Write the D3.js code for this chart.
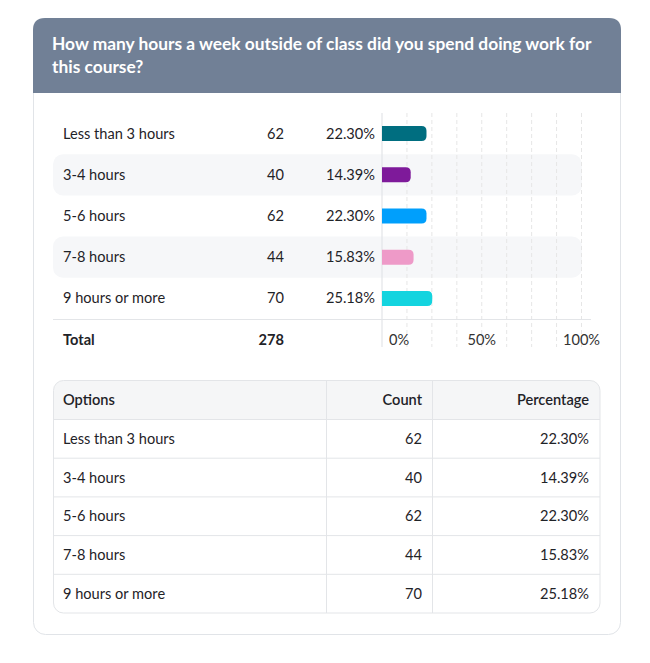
<!DOCTYPE html>
<html>
<head>
<meta charset="utf-8">
<script src="https://cdn.jsdelivr.net/npm/d3@7"></script>
<style>
  html, body { margin: 0; padding: 0; background: #fff; }
  svg { display: block; font-family: Lato, "Noto Sans", sans-serif; }
</style>
</head>
<body>
<svg id="chart" width="650" height="663"></svg>
<script>
/* ── Data ─────────────────────────────── */
const titleLines = ["How many hours a week outside of class did you spend doing work for", "this course?"];
const options    = ["Less than 3 hours", "3-4 hours", "5-6 hours", "7-8 hours", "9 hours or more"];
const counts     = [62, 40, 62, 44, 70];
const percents   = [22.30, 14.39, 22.30, 15.83, 25.18];
const barColors  = ["#006e80", "#7e1a9a", "#009ffc", "#ee9ac8", "#14d4df"];
const tickValues = [0, 50, 100];
const tableHead  = ["Options", "Count", "Percentage"];
const total      = 278;

const svg = d3.select("#chart");
const textColor = "#1f2328";
const lineColor = "#e3e5e8";

/* ── Card + header ─────────────────────── */
svg.append("rect")
    .attr("x", 33.5).attr("y", 18.5).attr("width", 587).attr("height", 616)
    .attr("rx", 12).attr("fill", "#fff").attr("stroke", "#e1e4e8");

const hx = 33, hy = 18, hw = 588, hh = 75, hr = 12;
svg.append("path")
    .attr("d", `M${hx},${hy+hh} V${hy+hr} Q${hx},${hy} ${hx+hr},${hy} H${hx+hw-hr} Q${hx+hw},${hy} ${hx+hw},${hy+hr} V${hy+hh} Z`)
    .attr("fill", "#718096");

svg.append("g").selectAll("text")
    .data(titleLines).join("text")
    .attr("x", 52).attr("y", (d, i) => 50 + i * 23)
    .attr("fill", "#fff").attr("font-size", 17.35).attr("font-weight", 700)
    .text(d => d);

/* ── Bar chart ────────────────────────── */
const rows = options.map((o, i) => ({ option: o, count: counts[i], pct: percents[i], color: barColors[i], i }));

const y = d3.scaleBand().domain(options).range([113, 319]);
const x = d3.scaleLinear().domain([0, 100]).range([382, 581.5]);

// striped rows
svg.append("g").selectAll("rect")
    .data(rows.filter(d => d.i % 2 === 1)).join("rect")
    .attr("x", 53).attr("y", d => y(d.option))
    .attr("width", 582 - 53).attr("height", y.bandwidth())
    .attr("rx", 10).attr("fill", "#f6f7f9");

// gridlines
const gridTop = 113, gridBottom = 347;
svg.append("g").selectAll("line")
    .data(d3.range(12.5, 100.1, 12.5)).join("line")
    .attr("x1", d => x(d)).attr("x2", d => x(d))
    .attr("y1", gridTop).attr("y2", gridBottom)
    .attr("stroke", "#e6e6e6").attr("stroke-dasharray", "4,3");

svg.append("line")
    .attr("x1", x(0)).attr("x2", x(0)).attr("y1", gridTop).attr("y2", gridBottom)
    .attr("stroke", lineColor).attr("stroke-width", 1.2);

svg.append("line")
    .attr("x1", 53).attr("x2", 591).attr("y1", 319.5).attr("y2", 319.5)
    .attr("stroke", lineColor).attr("stroke-width", 1.2);

// bars, right corners rounded
const barH = 15, br = 5;
svg.append("g").selectAll("path")
    .data(rows).join("path")
    .attr("d", d => {
        const x0 = x(0), x1 = x(d.pct);
        const y0 = y(d.option) + y.bandwidth() / 2 - barH / 2, y1 = y0 + barH;
        return `M${x0},${y0} H${x1-br} Q${x1},${y0} ${x1},${y0+br} V${y1-br} Q${x1},${y1} ${x1-br},${y1} H${x0} Z`;
    })
    .attr("fill", d => d.color);

const rowText = svg.append("g").attr("font-size", 14.6).attr("fill", textColor);
const mid = d => y(d.option) + y.bandwidth() / 2 + 5;

rowText.selectAll(".lbl").data(rows).join("text").attr("class", "lbl")
    .attr("x", 63).attr("y", mid).text(d => d.option);
rowText.selectAll(".cnt").data(rows).join("text").attr("class", "cnt")
    .attr("x", 284).attr("y", mid).attr("text-anchor", "end").text(d => d.count);
rowText.selectAll(".pct").data(rows).join("text").attr("class", "pct")
    .attr("x", 375).attr("y", mid).attr("text-anchor", "end").text(d => d.pct.toFixed(2) + "%");

// total row
svg.append("text").attr("x", 63).attr("y", 345)
    .attr("font-size", 14.6).attr("font-weight", 700).attr("fill", textColor).text("Total");
svg.append("text").attr("x", 284).attr("y", 345).attr("text-anchor", "end")
    .attr("font-size", 14.6).attr("font-weight", 700).attr("fill", textColor).text(total);

// x tick labels
svg.append("g").selectAll("text")
    .data(tickValues).join("text")
    .attr("x", d => d === 0 ? x(d) + 7 : x(d))
    .attr("y", 345)
    .attr("text-anchor", d => d === 0 ? "start" : "middle")
    .attr("font-size", 14.6).attr("fill", "#333")
    .text(d => d + "%");

/* ── Table ────────────────────────────── */
const tx = 53.5, tw = 546.5, ty = 380.5, headH = 39, rowH = 38.7;
const th = headH + rowH * rows.length;
const colX = [tx, 326.5, 432.5, tx + tw];

svg.append("clipPath").attr("id", "tclip")
    .append("rect").attr("x", tx).attr("y", ty).attr("width", tw).attr("height", th).attr("rx", 10);

const table = svg.append("g");
table.append("rect").attr("x", tx).attr("y", ty).attr("width", tw).attr("height", headH)
    .attr("fill", "#f5f6f7").attr("clip-path", "url(#tclip)");

table.selectAll(".hline").data(d3.range(rows.length)).join("line").attr("class", "hline")
    .attr("x1", tx).attr("x2", tx + tw)
    .attr("y1", i => ty + headH + i * rowH).attr("y2", i => ty + headH + i * rowH)
    .attr("stroke", lineColor);
table.selectAll(".vline").data(colX.slice(1, 3)).join("line").attr("class", "vline")
    .attr("x1", d => d).attr("x2", d => d).attr("y1", ty).attr("y2", ty + th)
    .attr("stroke", lineColor);
table.append("rect").attr("x", tx).attr("y", ty).attr("width", tw).attr("height", th)
    .attr("rx", 10).attr("fill", "none").attr("stroke", lineColor);

const colAnchor = ["start", "end", "end"];
const colTextX  = [63, 422, 589];

table.append("g").selectAll("text").data(tableHead).join("text")
    .attr("x", (d, i) => colTextX[i]).attr("y", ty + headH / 2 + 5)
    .attr("text-anchor", (d, i) => colAnchor[i])
    .attr("font-size", 14.6).attr("font-weight", 600).attr("fill", textColor)
    .text(d => d);

const bodyRows = table.append("g").selectAll("g").data(rows).join("g")
    .attr("transform", d => `translate(0,${ty + headH + d.i * rowH + rowH / 2 + 5})`);
bodyRows.selectAll("text")
    .data(d => [d.option, d.count, d.pct.toFixed(2) + "%"]).join("text")
    .attr("x", (d, i) => colTextX[i])
    .attr("text-anchor", (d, i) => colAnchor[i])
    .attr("font-size", 14.6).attr("fill", textColor)
    .text(d => d);
</script>
</body>
</html>
